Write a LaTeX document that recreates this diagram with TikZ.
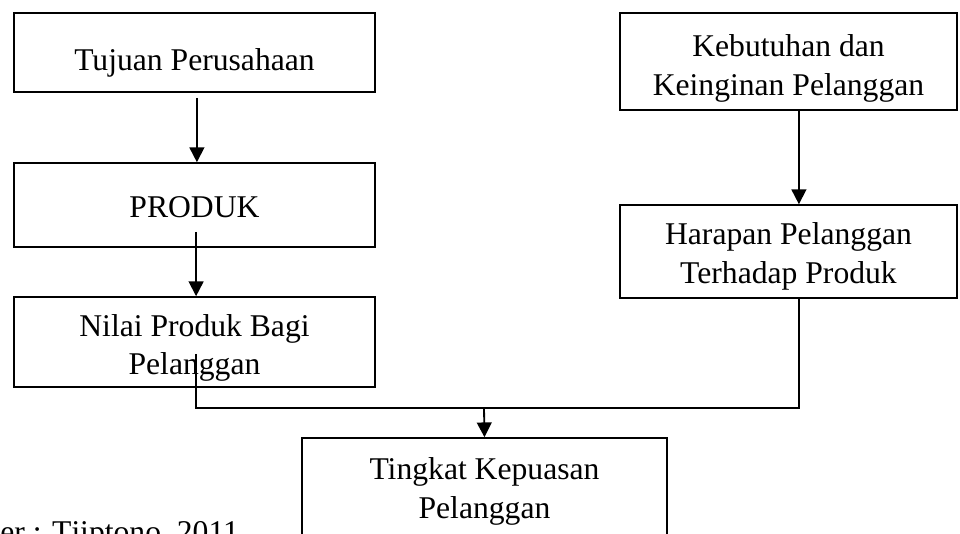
\documentclass[tikz,border=0pt]{standalone}
\usepackage{fontspec}
\setmainfont{Liberation Serif}
\usetikzlibrary{arrows.meta}
\begin{document}
\begin{tikzpicture}[x=0.025cm,y=-0.025cm,
    kotak/.style={draw,line width=1.1pt,align=center,inner sep=0pt,
      font=\fontsize{22.5}{27.5}\selectfont,execute at begin node={\rule{0pt}{#1}}},
    kotak/.default=15pt,
    panah/.style={-{Triangle[length=10.5pt,width=10.5pt]},line width=1.3pt},
    garis/.style={line width=1.3pt}]
  \useasboundingbox (0,0) rectangle (960,533);
  % kolom kiri
  \node[kotak=29.7pt,minimum width=9.025cm,minimum height=1.975cm] (tujuan) at (194.5,52.5) {Tujuan Perusahaan};
  \node[kotak=18.5pt,minimum width=9.025cm,minimum height=2.1cm] (produk) at (194.5,205) {PRODUK};
  \node[kotak=51.4pt,minimum width=9.025cm,minimum height=2.25cm] (nilai) at (194.5,342) {Nilai Produk Bagi\\Pelanggan};
  % kolom kanan
  \node[kotak=52.5pt,minimum width=8.425cm,minimum height=2.425cm] (kebutuhan) at (788.5,61.5) {Kebutuhan dan\\Keinginan Pelanggan};
  \node[kotak=49.7pt,minimum width=8.425cm,minimum height=2.325cm] (harapan) at (788.5,251.5) {Harapan Pelanggan\\Terhadap Produk};
  % hasil
  \node[kotak=44.7pt,minimum width=9.125cm,minimum height=2.6cm] (tingkat) at (484.5,490) {Tingkat Kepuasan\\Pelanggan};
  \node[anchor=base west,inner sep=0pt,font=\fontsize{22.5}{27.5}\selectfont] (sumber) at (0,542) {er : Tjiptono, 2011};
  \coordinate (gabung) at (484,408);
  % panah
  \draw[panah] ([xshift=0.06cm,yshift=-0.125cm]tujuan.south) -- ([xshift=0.06cm]produk.north);
  \draw[panah] ([xshift=0.04cm,yshift=0.4cm]produk.south) -- ([xshift=0.04cm]nilai.north);
  \draw[panah] ([xshift=0.26cm]kebutuhan.south) -- ([xshift=0.26cm]harapan.north);
  \draw[garis] ([xshift=0.04cm,yshift=0.85cm]nilai.south) |- (gabung) -| ([xshift=0.26cm,yshift=0.05cm]harapan.south);
  \draw[panah] (gabung) -- (tingkat.north);
\end{tikzpicture}
\end{document}
